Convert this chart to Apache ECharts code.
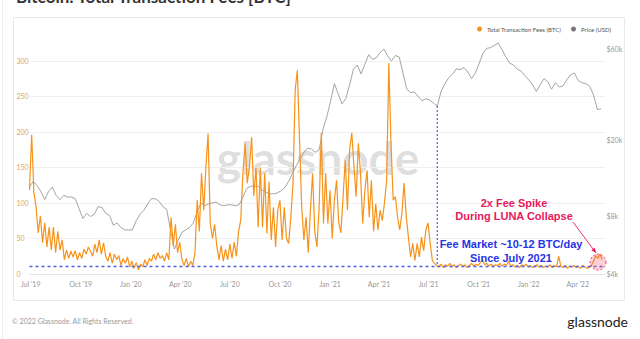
<!DOCTYPE html>
<html><head><meta charset="utf-8">
<script src="https://cdn.jsdelivr.net/npm/echarts@6/dist/echarts.min.js"></script>
<style>html,body{margin:0;padding:0;background:#fff;}#c{width:640px;height:339px;}</style>
</head><body><div id="c"></div>
<script>
// ---------- DATA ----------
const feeStart = [2019, 5, 29];      // 29 Jun 2019
const feeStepDays = 4;
const feeValues = [
  118,196,115,95,58,82,44,72,38,66,
  34,66,30,60,34,48,20,34,22,32,
  24,33,20,30,22,35,28,38,32,25,
  42,30,48,28,44,25,18,30,15,28,
  20,26,12,22,15,24,10,18,8,16,
  6,14,10,20,12,22,18,28,20,30,
  22,26,18,30,20,80,40,70,30,45,
  20,12,22,10,18,12,30,104,60,142,
  90,150,198,72,50,70,40,20,40,18,
  35,20,42,22,45,25,60,76,142,184,
  128,150,193,110,150,66,150,66,142,57,
  130,48,94,38,90,104,48,94,50,43,
  80,128,259,287,189,94,48,80,30,90,
  142,60,38,94,199,71,142,71,118,50,
  104,132,72,58,109,160,90,175,199,151,
  109,184,142,71,118,146,80,132,60,99,
  62,90,75,100,132,297,184,104,109,81,
  62,85,128,81,52,24,43,19,43,24,
  52,33,62,72,43,19,15,
  12,10,14,9,13,11,15,10,13,9,
  12,14,10,13,9,12,15,11,14,12,
  16,20,13,15,11,14,10,13,12,15,
  11,14,12,18,11,13,10,12,9,13,
  11,14,10,12,9,11,13,10,12,9,
  11,10,13,9,12,10,25,11,9,12,
  8,11,10,12,9,11,8,12,10,8,
  9,12,18,26,22,28,20
];
const priceStart = [2019, 5, 29];
const priceStepDays = 7;
const priceValues = [
  11400,12200,11600,10800,9800,10800,11400,10300,9800,10300,
  10100,10100,9900,8800,7800,8300,8000,8200,9000,8900,
  8300,8100,7200,7400,7000,6800,6800,6800,7600,8200,
  8600,9300,9900,9900,9600,9000,8700,6800,5400,6000,
  6600,6800,7000,7400,8500,9400,9100,9300,9400,9500,
  9200,9100,9200,9200,9100,9200,10100,11200,11500,11500,
  11500,11000,10700,10500,10500,10600,10900,11300,12200,13400,
  14700,16000,17300,18200,18000,17300,17800,22800,26500,32000,
  39500,35000,31000,33000,39000,47000,49500,44500,50000,56000,
  53000,54000,57500,60000,55000,52000,55500,54500,45000,37000,
  35500,35800,33800,32200,33000,32500,31300,30200,36000,39500,
  42500,44400,47300,46800,48000,45500,42000,45000,50500,57000,
  60500,61000,62800,64500,59500,54500,50600,49500,47000,46000,
  43500,41500,39000,36000,39000,42000,40500,37000,40000,38000,
  38500,41500,44000,45000,41000,40000,39500,38300,34500,29000,
  29200
];
const xTickDates = [[2019,6,1],[2019,9,1],[2020,0,1],[2020,3,1],[2020,6,1],[2020,9,1],
                    [2021,0,1],[2021,3,1],[2021,6,1],[2021,9,1],[2022,0,1],[2022,3,1]];
const xRange = [[2019,5,29],[2022,4,22]];
const feeTicks = [0,50,100,150,200,250,300];
const priceTicks = [4000,8000,20000,60000];
const feeMarketLevel = 11;
const monthNames = ['Jan','Feb','Mar','Apr','May','Jun','Jul','Aug','Sep','Oct','Nov','Dec'];

// ---------- BUILD ----------
const ts = (a, addDays) => new Date(a[0], a[1], a[2] + (addDays||0)).getTime();
const feeData = feeValues.map((v,i) => [ts(feeStart, i*feeStepDays), v]);
const priceData = priceValues.map((v,i) => [ts(priceStart, i*priceStepDays), v]);
const xTicks = xTickDates.map(d => ts(d));
const fmtDate = v => { const d = new Date(v); return monthNames[d.getMonth()] + " '" + String(d.getFullYear()).slice(2); };

const ORANGE = '#f7931a';
const chart = echarts.init(document.getElementById('c'), null, {renderer:'svg'});
const option = {
  animation: false,
  backgroundColor: '#fff',
  grid: {left: 29.5, right: 34.5, top: 30, bottom: 65, outerBoundsMode: 'none', containLabel: false},
  legend: {
    right: 24, top: 21, icon: 'circle', itemWidth: 5, itemHeight: 5, itemGap: 10,
    textStyle: {fontSize: 6, color: '#555', fontFamily: 'Lato'},
    data: ['Total Transaction Fees (BTC)', 'Price (USD)']
  },
  xAxis: {
    type: 'value', min: ts(xRange[0]), max: ts(xRange[1]), scale: true,
    axisLine: {show: true, lineStyle: {color: '#e4e4e4'}},
    axisTick: {show: false, customValues: xTicks},
    splitLine: {show: false},
    axisLabel: {customValues: xTicks, formatter: fmtDate, color: '#999', fontSize: 7, margin: 6, fontFamily: 'Lato'}
  },
  yAxis: [
    {
      type: 'value', min: 0, max: 343.66, position: 'left',
      axisLine: {show: false},
      axisTick: {show: false, customValues: feeTicks},
      axisLabel: {customValues: feeTicks, color: '#dba567', fontSize: 7, align: 'left', margin: 13, fontFamily: 'Lato'},
      splitLine: {show: true, lineStyle: {color: '#f0f0f0'}}
    },
    {
      type: 'log', min: 4000, max: 75440, position: 'right', logBase: 10,
      axisLine: {show: false},
      axisTick: {show: false, customValues: priceTicks},
      axisLabel: {customValues: priceTicks, formatter: v => '$' + Math.round(v/1000) + 'k', color: '#999', fontSize: 7, margin: 1, fontFamily: 'Lato'},
      splitLine: {show: false}
    }
  ],
  series: [
    {
      name: 'Price (USD)', type: 'line', yAxisIndex: 1, data: priceData,
      showSymbol: false, symbol: 'circle', z: 2,
      lineStyle: {color: '#8d8d8d', width: 0.8}, itemStyle: {color: '#777'}
    },
    {
      name: 'Total Transaction Fees (BTC)', type: 'line', yAxisIndex: 0, data: feeData,
      showSymbol: false, symbol: 'circle', z: 3,
      lineStyle: {color: ORANGE, width: 1.2}, itemStyle: {color: ORANGE},
      markLine: {
        silent: true, symbol: 'none', label: {show: false},
        lineStyle: {color: '#4f5fe0', type: [3,3], width: 1.3},
        data: [{yAxis: feeMarketLevel}]
      }
    }
  ]
};
chart.setOption(option);

// ---------- ANNOTATIONS (anchored through the chart's own scales) ----------
let lowIdx = -1;
const lo = ts([2021,5,1]), hi = ts([2021,7,31]);
priceData.forEach((p,i) => { if (p[0] >= lo && p[0] <= hi && (lowIdx < 0 || p[1] < priceData[lowIdx][1])) lowIdx = i; });
const vx = chart.convertToPixel({xAxisIndex: 0}, priceData[lowIdx][0]);
const vyTop = chart.convertToPixel({yAxisIndex: 1}, priceData[lowIdx][1]);
const vyBot = chart.convertToPixel({yAxisIndex: 0}, feeMarketLevel);

let lunaIdx = feeData.length - 8;
for (let i = feeData.length - 8; i < feeData.length; i++) if (feeData[i][1] > feeData[lunaIdx][1]) lunaIdx = i;
const cx = chart.convertToPixel({xAxisIndex: 0}, feeData[lunaIdx][0]) - 2;
const cy = chart.convertToPixel({yAxisIndex: 0}, feeData[lunaIdx][1] * 0.6);

const ax1 = 573, ay1 = 222, ax2 = cx - 2, ay2 = cy - 9;
const dx = ax2 - ax1, dy = ay2 - ay1, L = Math.hypot(dx, dy), ux = dx/L, uy = dy/L;
const RED = '#e8195c', BLUE = '#2633e6';

chart.setOption({
  graphic: [
    {type: 'rect', silent: true, z: -10, shape: {x: 13.5, y: 17.5, width: 611, height: 283},
     style: {fill: 'none', stroke: '#e9e9e9', lineWidth: 1}},
    {type: 'line', silent: true, z: -10, shape: {x1: 2.5, y1: 0, x2: 2.5, y2: 339}, style: {stroke: '#eeeeee'}},
    {type: 'text', silent: true, x: 16, y: 5, style: {text: 'Bitcoin: Total Transaction Fees [BTC]',
      fontSize: 17, fontWeight: 'bold', fontFamily: 'Lato', fill: '#333', verticalAlign: 'bottom', align: 'left'}},
    {type: 'text', silent: true, z: -5, x: 318, y: 157, style: {text: 'glassnode', fontSize: 46, fontWeight: 'bold',
      fontFamily: 'Lato', fill: 'rgba(0,0,0,0.15)', align: 'center', verticalAlign: 'middle'}},
    {type: 'line', silent: true, z: 10, shape: {x1: vx, y1: vyTop, x2: vx, y2: vyBot},
     style: {stroke: '#4f5fe0', lineWidth: 1.2, lineDash: [2,2]}},
    {type: 'circle', silent: true, z: 10, shape: {cx: cx, cy: cy, r: 8},
     style: {fill: 'rgba(240,90,110,0.28)', stroke: RED, lineWidth: 0.8, lineDash: [2,2]}},
    {type: 'line', silent: true, z: 10, shape: {x1: ax1, y1: ay1, x2: ax2, y2: ay2}, style: {stroke: RED, lineWidth: 0.9}},
    {type: 'polygon', silent: true, z: 10, shape: {points: [[ax2, ay2],
       [ax2 - ux*5 - uy*2.2, ay2 - uy*5 + ux*2.2], [ax2 - ux*5 + uy*2.2, ay2 - uy*5 - ux*2.2]]}, style: {fill: RED}},
    {type: 'text', silent: true, z: 11, x: 514, y: 203, style: {text: '2x Fee Spike', fontSize: 11, fontWeight: 'bold',
      fontFamily: 'Liberation Sans', fill: RED, align: 'center', verticalAlign: 'middle'}},
    {type: 'text', silent: true, z: 11, x: 514, y: 216, style: {text: 'During LUNA Collapse', fontSize: 11, fontWeight: 'bold',
      fontFamily: 'Liberation Sans', fill: RED, align: 'center', verticalAlign: 'middle'}},
    {type: 'text', silent: true, z: 11, x: 511, y: 244, style: {text: 'Fee Market ~10-12 BTC/day', fontSize: 11, fontWeight: 'bold',
      fontFamily: 'Liberation Sans', fill: BLUE, align: 'center', verticalAlign: 'middle'}},
    {type: 'text', silent: true, z: 11, x: 511, y: 258, style: {text: 'Since July 2021', fontSize: 11, fontWeight: 'bold',
      fontFamily: 'Liberation Sans', fill: BLUE, align: 'center', verticalAlign: 'middle'}},
    {type: 'text', silent: true, x: 12, y: 321, style: {text: '© 2022 Glassnode. All Rights Reserved.', fontSize: 7,
      fontFamily: 'Lato', fill: '#999', align: 'left', verticalAlign: 'middle'}},
    {type: 'text', silent: true, x: 628, y: 321, style: {text: 'glassnode', fontSize: 14,
      fontFamily: 'Lato', fill: '#222', align: 'right', verticalAlign: 'middle'}}
  ]
});
</script>
</body></html>
